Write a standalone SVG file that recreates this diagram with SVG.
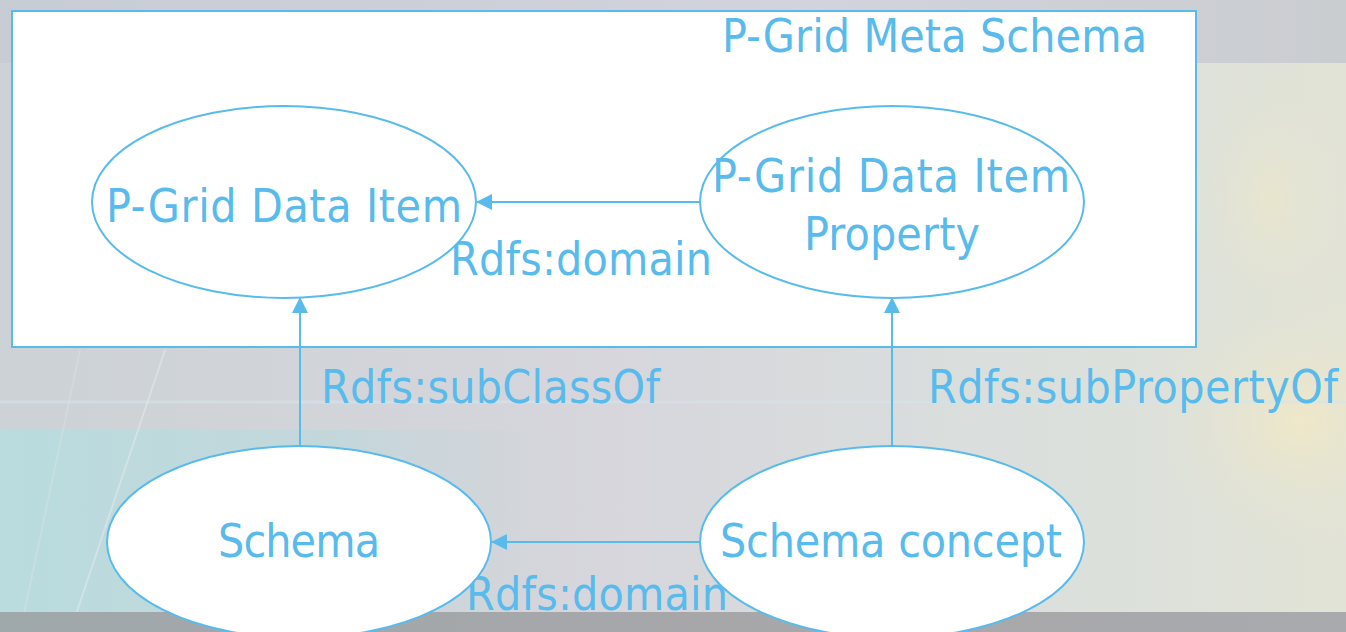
<svg xmlns="http://www.w3.org/2000/svg" width="1346" height="632" viewBox="0 0 1346 632">
  <defs>
    <style>
      .lbl { font-family: "DejaVu Sans", Verdana, sans-serif; font-stretch: condensed; font-size: 46px; fill: #58bbec; }
      .mid { text-anchor: middle; }
      .node { fill: #ffffff; stroke: #58bbec; stroke-width: 2; }
      .edge { stroke: #58bbec; stroke-width: 2; fill: none; marker-end: url(#arrow); }
    </style>
    <marker id="arrow" viewBox="0 0 16 16" refX="15" refY="8" markerWidth="16" markerHeight="16" markerUnits="userSpaceOnUse" orient="auto">
      <path d="M0,0 L16,8 L0,16 Z" fill="#58bbec"/>
    </marker>
    <linearGradient id="bgMain" x1="0" y1="0" x2="1" y2="0">
      <stop offset="0" stop-color="#ccd2d6"/>
      <stop offset="0.45" stop-color="#d6d6dc"/>
      <stop offset="0.8" stop-color="#dbe0dc"/>
      <stop offset="1" stop-color="#e2e3d6"/>
    </linearGradient>
    <linearGradient id="topStrip" x1="0" y1="0" x2="1" y2="0">
      <stop offset="0" stop-color="#c8ccd4"/>
      <stop offset="0.6" stop-color="#d2d3dc"/>
      <stop offset="1" stop-color="#cacdd0"/>
    </linearGradient>
    <linearGradient id="tealFade" x1="0" y1="0" x2="1" y2="0">
      <stop offset="0" stop-color="#b9dcde"/>
      <stop offset="0.6" stop-color="#c0d8dc" stop-opacity="0.8"/>
      <stop offset="1" stop-color="#c8d4d8" stop-opacity="0"/>
    </linearGradient>
    <radialGradient id="warmGlow" cx="0.5" cy="0.5" r="0.5">
      <stop offset="0" stop-color="#efe8c8"/>
      <stop offset="1" stop-color="#e4e4d4" stop-opacity="0"/>
    </radialGradient>
    <linearGradient id="bottomBar" x1="0" y1="0" x2="1" y2="0">
      <stop offset="0" stop-color="#9fa8aa"/>
      <stop offset="0.5" stop-color="#a7a7aa"/>
      <stop offset="1" stop-color="#a9aaad"/>
    </linearGradient>
  </defs>

  <!-- backdrop -->
  <g id="backdrop">
    <rect x="0" y="0" width="1346" height="632" fill="url(#bgMain)"/>
    <rect x="0" y="0" width="1346" height="63" fill="url(#topStrip)"/>
    <rect x="0" y="430" width="560" height="182" fill="url(#tealFade)"/>
    <ellipse cx="1300" cy="420" rx="140" ry="130" fill="url(#warmGlow)"/>
    <ellipse cx="1270" cy="200" rx="80" ry="120" fill="url(#warmGlow)" opacity="0.6"/>
    <line x1="0" y1="402" x2="1346" y2="402" stroke="#d6e4ea" stroke-width="3" opacity="0.6"/>
    <line x1="165" y1="350" x2="70" y2="632" stroke="#e2e8ec" stroke-width="2" opacity="0.6"/>
    <line x1="80" y1="350" x2="20" y2="632" stroke="#dbe4e8" stroke-width="2" opacity="0.4"/>
    <rect x="0" y="612" width="1346" height="20" fill="url(#bottomBar)"/>
  </g>

  <!-- meta schema frame -->
  <g id="meta-schema">
    <rect x="12" y="11" width="1184" height="336" fill="#ffffff" stroke="#58bbec" stroke-width="2"/>
    <text class="lbl" x="722" y="52" textLength="425">P-Grid Meta Schema</text>
  </g>

  <!-- connectors -->
  <g id="connectors">
    <line class="edge" x1="700" y1="202" x2="477" y2="202"/>
    <line class="edge" x1="300" y1="446" x2="300" y2="298"/>
    <line class="edge" x1="892" y1="446" x2="892" y2="298"/>
    <line class="edge" x1="700" y1="542" x2="492" y2="542"/>
    <text class="lbl" x="450" y="275" textLength="262">Rdfs:domain</text>
    <text class="lbl" x="321" y="403" textLength="339">Rdfs:subClassOf</text>
    <text class="lbl" x="928" y="403" textLength="410">Rdfs:subPropertyOf</text>
    <text class="lbl" x="466" y="610" textLength="262">Rdfs:domain</text>
  </g>

  <!-- nodes -->
  <g id="node-data-item">
    <ellipse class="node" cx="284" cy="202" rx="192" ry="96"/>
    <text class="lbl mid" x="284" y="222" textLength="356">P-Grid Data Item</text>
  </g>
  <g id="node-data-item-property">
    <ellipse class="node" cx="892" cy="202" rx="192" ry="96"/>
    <text class="lbl mid" x="891" y="192" textLength="358">P-Grid Data Item</text>
    <text class="lbl mid" x="892" y="250" textLength="176">Property</text>
  </g>
  <g id="node-schema">
    <ellipse class="node" cx="299" cy="542" rx="192" ry="96"/>
    <text class="lbl mid" x="299" y="557" textLength="162">Schema</text>
  </g>
  <g id="node-schema-concept">
    <ellipse class="node" cx="892" cy="542" rx="192" ry="96"/>
    <text class="lbl mid" x="891" y="557" textLength="342">Schema concept</text>
  </g>
</svg>
